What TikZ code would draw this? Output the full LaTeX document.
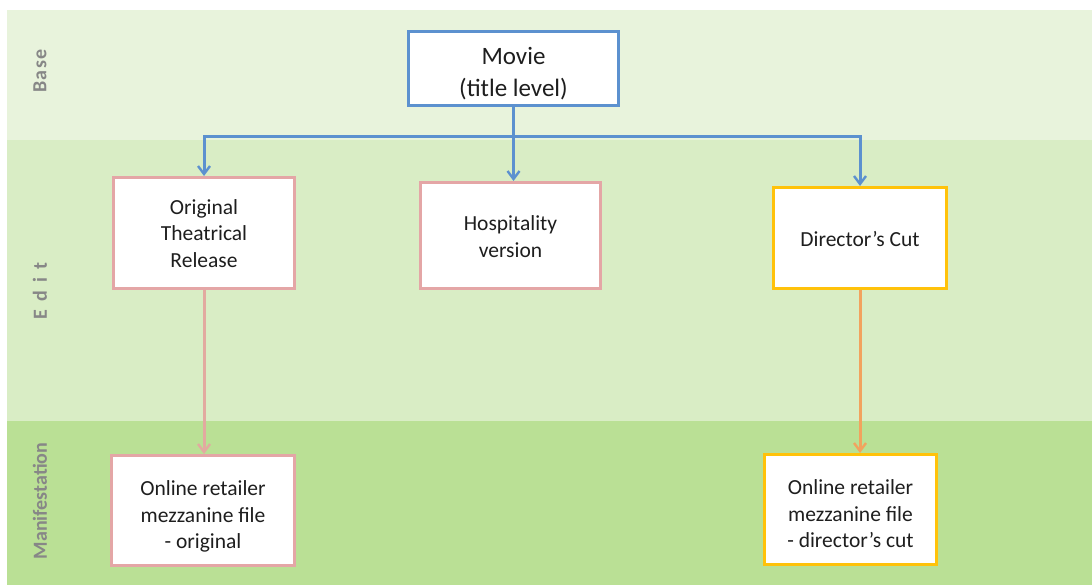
\documentclass[tikz,border=0pt]{standalone}
\usepackage{fontspec}
\setmainfont{Carlito}
\usetikzlibrary{arrows.meta}
\definecolor{basebg}{RGB}{232,243,220}
\definecolor{editbg}{RGB}{217,237,197}
\definecolor{manbg}{RGB}{186,224,149}
\definecolor{labelgray}{RGB}{135,135,135}
\definecolor{boxblue}{RGB}{92,145,207}
\definecolor{boxpink}{RGB}{228,166,166}
\definecolor{boxyellow}{RGB}{255,194,10}
\definecolor{arrpink}{RGB}{226,170,160}
\definecolor{arrorange}{RGB}{242,163,94}
\definecolor{txt}{RGB}{30,30,30}
\newcommand{\dn}[2]{\raisebox{-#1}[\height][\depth]{\begin{tabular}{@{}c@{}}#2\end{tabular}}}
\tikzset{
  lanelabel/.style={rotate=90, text=labelgray, font={\fontsize{20}{22}\selectfont\bfseries}},
  box/.style={draw, line width=3pt, fill=white, align=center, text=txt, inner sep=0pt,
    font={\fontsize{21.5}{26.5}\selectfont}},
  bluebox/.style={box, draw=boxblue},
  pinkbox/.style={box, draw=boxpink},
  yellowbox/.style={box, draw=boxyellow},
  conn/.style={line width=3pt, -{Straight Barb[length=8pt,width=12pt,line width=2.4pt]}},
}
\begin{document}
\begin{tikzpicture}[x=1pt,y=-1pt]
\useasboundingbox (0,0) rectangle (1092,585);
\fill[basebg] (7,10) rectangle (1092,140);
\fill[editbg] (7,140) rectangle (1092,421);
\fill[manbg] (7,421) rectangle (1092,585);

\node[lanelabel] (lbase) at (40,71) {B\kern1.5pt a\kern1.5pt s\kern1.5pt e};
\node[lanelabel] (ledit) at (40,291) {E\hspace{8pt}d\hspace{8pt}i\hspace{8pt}t};
\node[lanelabel] (lman) at (40,501) {Manifestation};

\node[bluebox, minimum width=210pt, minimum height=74pt, font={\fontsize{25}{32}\selectfont}] (movie) at (513.5,68.5) {\dn{6pt}{Movie\\(title level)}};
\node[pinkbox, minimum width=181pt, minimum height=111pt] (orig) at (204,233) {\dn{2.5pt}{Original\\Theatrical\\Release}};
\node[pinkbox, minimum width=180pt, minimum height=106pt] (hosp) at (510.5,235.5) {\dn{3pt}{Hospitality\\version}};
\node[yellowbox, minimum width=173pt, minimum height=101pt] (dc) at (860,238) {\dn{3pt}{Director’s Cut}};
\node[pinkbox, minimum width=183pt, minimum height=110pt] (oo) at (203,510.5) {\dn{6.5pt}{Online retailer\\mezzanine file\\- original}};
\node[yellowbox, minimum width=172pt, minimum height=110pt] (odc) at (850.5,509.5) {\dn{6.5pt}{Online retailer\\mezzanine file\\- director’s cut}};

\coordinate (bus) at (514,137);
\draw[conn, draw=boxblue] (movie.south) -- (movie.south |- hosp.north);
\draw[conn, draw=boxblue] (bus) -| (orig.north);
\draw[conn, draw=boxblue] (bus) -| (dc.north);
\draw[conn, draw=arrpink] (orig.south) -- (orig.south |- oo.north);
\draw[conn, draw=arrorange] (dc.south) -- (dc.south |- odc.north);
\end{tikzpicture}
\end{document}
